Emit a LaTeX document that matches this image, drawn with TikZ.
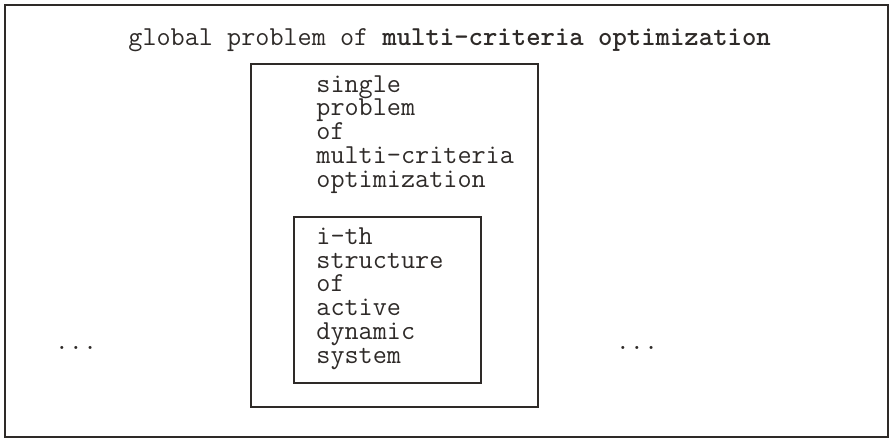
\documentclass[tikz,border=0pt]{standalone}
\definecolor{ink}{HTML}{2E2A28}
\begin{document}
\begin{tikzpicture}[x=0.5pt,y=-0.5pt,
  box/.style={draw=ink, line width=1pt},
  txt/.style={font=\ttfamily\fontsize{13.7}{11.85}\selectfont, text=ink, inner sep=0pt, align=left}]
\useasboundingbox (0,0) rectangle (893,440);
\draw[box] (5,5) rectangle (888,437);
\node[box, inner sep=0pt, minimum width=287*0.5pt, minimum height=343*0.5pt, anchor=north west] (mid) at (250,63) {};
\node[box, inner sep=0pt, minimum width=187*0.5pt, minimum height=166*0.5pt, anchor=north west] (inner) at (293,216) {};
\node[txt, anchor=base west] (title) at (128,45) {global problem of \textbf{multi-criteria optimization}};
\node[txt, anchor=base west] (single) at (316,187) {single\\problem\\of\\multi-criteria\\optimization};
\node[txt, anchor=base west] (ith) at (316,363) {i-th\\structure\\of\\active\\dynamic\\system};
\node[txt] (dl) at (76,348) {...};
\node[txt] (dr) at (637,348) {...};
\end{tikzpicture}
\end{document}
